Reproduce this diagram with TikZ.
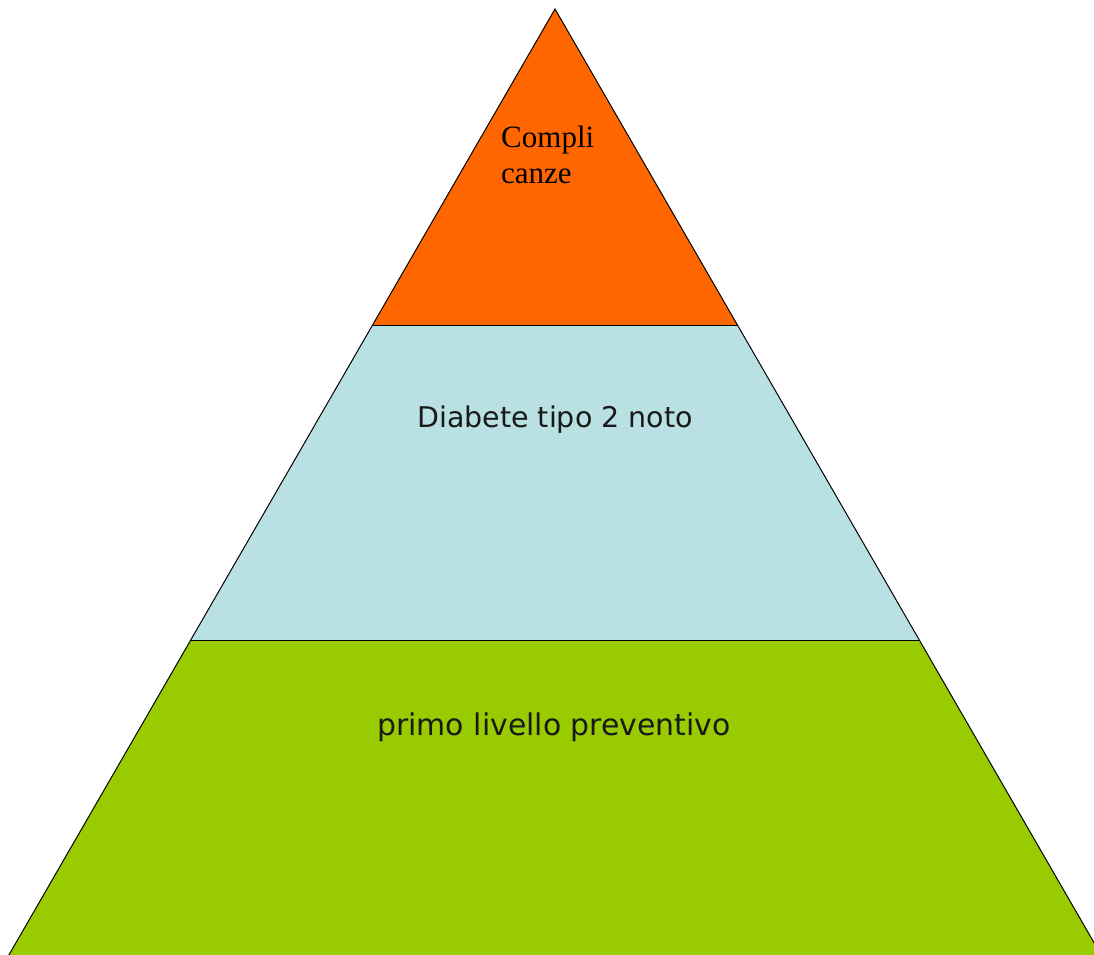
\documentclass[tikz,border=0pt]{standalone}
\usepackage{fontspec}
\setmainfont{Liberation Serif}
\newfontfamily\labelsans{DejaVu Sans}
\definecolor{topcol}{HTML}{FF6600}
\definecolor{midcol}{HTML}{B9E0E3}
\definecolor{botcol}{HTML}{99CC00}
\tikzset{
  band/.style={draw=black, line width=1pt, line join=miter},
  serlabel/.style={anchor=base west, inner sep=0pt, font=\fontsize{31}{36}\selectfont, align=left},
  sanlabel/.style={anchor=base west, inner sep=0pt, text=black!90},
}
\begin{document}
\begin{tikzpicture}[x=1pt,y=-1pt]
\useasboundingbox (0,0) rectangle (1094,954);
\clip (0,0) rectangle (1094,954);
\coordinate (apex) at (555,9);
\coordinate (l1) at (372.7,325);
\coordinate (r1) at (737.3,325);
\coordinate (l2) at (191,640);
\coordinate (r2) at (919,640);
\coordinate (l3) at (5.4,961);
\coordinate (r3) at (1104.6,961);
\fill[botcol] (l2) -- (r2) -- (r3) -- (l3) -- cycle;
\fill[midcol] (l1) -- (r1) -- (r2) -- (l2) -- cycle;
\fill[topcol] (apex) -- (r1) -- (l1) -- cycle;
\draw[band] (l3) -- (apex) -- (r3);
\draw[band] (l1) -- (r1);
\draw[band] (l2) -- (r2);
\node[serlabel] (top) at (501,183) {Compli\\canze};
\node[sanlabel, font=\labelsans\fontsize{28.5}{34}\selectfont] (mid) at (417,427) {Diabete tipo 2 noto};
\node[sanlabel, font=\labelsans\fontsize{29.9}{34}\selectfont] (bot) at (377,735) {primo livello preventivo};
\end{tikzpicture}
\end{document}
